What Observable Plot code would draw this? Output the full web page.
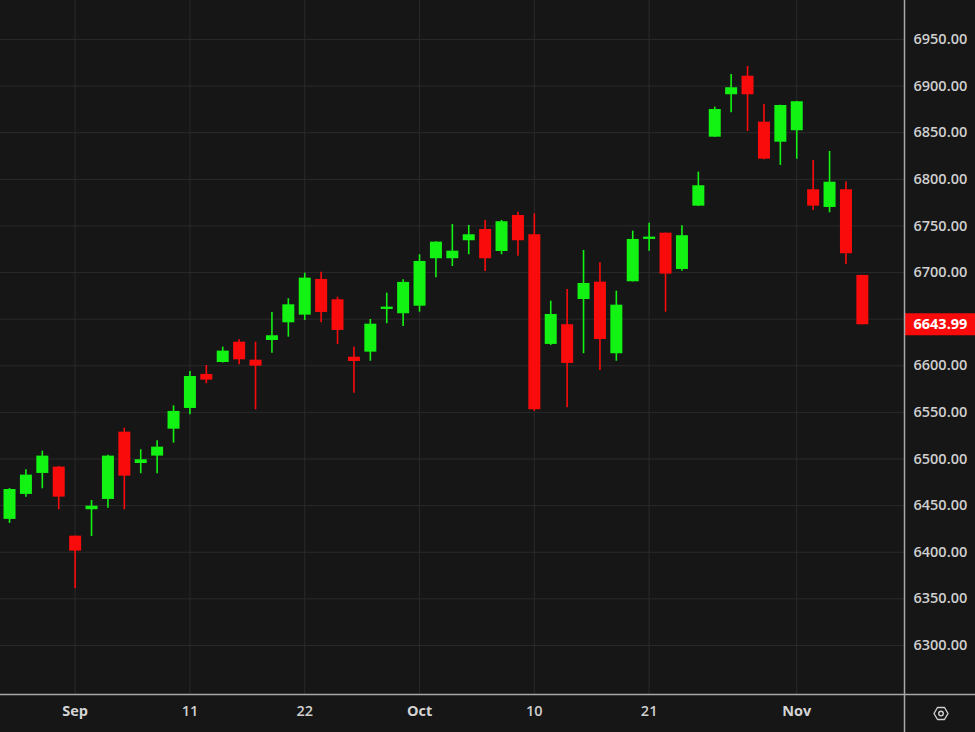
<!DOCTYPE html>
<html><head><meta charset="utf-8">
<script src="https://cdn.jsdelivr.net/npm/d3@7"></script>
<script src="https://cdn.jsdelivr.net/npm/@observablehq/plot@0.6"></script>
<style>
html,body{margin:0;padding:0;background:#161616;}
#chart{width:975px;height:732px;position:relative;overflow:hidden;}
</style></head><body><div id="chart"></div>
<script>
// Daily candles
const dates = ["2025-08-26","2025-08-27","2025-08-28","2025-08-29","2025-09-02","2025-09-03","2025-09-04","2025-09-05","2025-09-08","2025-09-09","2025-09-10","2025-09-11","2025-09-12","2025-09-15","2025-09-16","2025-09-17","2025-09-18","2025-09-19","2025-09-22","2025-09-23","2025-09-24","2025-09-25","2025-09-26","2025-09-29","2025-09-30","2025-10-01","2025-10-02","2025-10-03","2025-10-06","2025-10-07","2025-10-08","2025-10-09","2025-10-10","2025-10-13","2025-10-14","2025-10-15","2025-10-16","2025-10-17","2025-10-20","2025-10-21","2025-10-22","2025-10-23","2025-10-24","2025-10-27","2025-10-28","2025-10-29","2025-10-30","2025-10-31","2025-11-03","2025-11-04","2025-11-05","2025-11-06","2025-11-07"];
const open  = [6435.2,6462.0,6484.5,6491.3,6417.2,6445.6,6456.6,6528.8,6495.2,6503.1,6532.0,6554.2,6590.7,6603.5,6625.3,6606.0,6627.1,6646.1,6654.3,6692.6,6670.8,6609.2,6614.6,6660.4,6655.8,6663.9,6714.8,6714.8,6734.1,6746.2,6722.6,6761.2,6740.5,6622.9,6644.0,6671.1,6689.7,6612.9,6690.1,6735.5,6742.2,6703.3,6771.2,6845.2,6890.7,6910.6,6861.3,6839.8,6852.1,6788.8,6769.8,6788.8,6696.9];
const high  = [6468.4,6488.5,6508.4,6492.0,6417.5,6455.5,6504.0,6533.1,6509.9,6519.6,6557.1,6593.9,6600.3,6620.0,6627.9,6625.3,6657.2,6671.9,6699.3,6700.4,6673.6,6620.0,6649.7,6677.9,6692.3,6719.1,6733.0,6751.6,6750.5,6755.9,6755.9,6764.8,6763.0,6669.3,6681.8,6723.7,6710.5,6680.0,6744.4,6753.0,6742.5,6750.2,6807.7,6877.4,6912.5,6921.0,6880.3,6879.5,6883.5,6820.2,6829.9,6797.0,6696.9];
const low   = [6430.9,6459.1,6468.1,6445.6,6360.8,6416.9,6447.3,6445.6,6484.2,6484.2,6517.0,6547.5,6580.7,6603.0,6601.1,6552.8,6613.5,6630.7,6648.6,6646.1,6622.9,6570.6,6604.9,6645.1,6642.2,6657.5,6694.4,6706.5,6719.1,6701.2,6719.1,6717.6,6551.0,6621.8,6555.0,6612.9,6595.0,6604.9,6690.0,6722.9,6657.5,6701.5,6771.0,6845.0,6871.4,6851.3,6821.0,6814.9,6821.6,6766.6,6764.1,6708.7,6643.99];
const close = [6467.3,6482.7,6503.1,6459.1,6401.2,6449.4,6503.1,6481.6,6499.2,6512.7,6551.0,6588.5,6584.6,6615.7,6606.4,6599.6,6632.2,6665.4,6694.0,6657.2,6637.9,6604.6,6644.6,6662.9,6689.4,6711.9,6732.6,6722.9,6740.5,6714.8,6754.5,6734.1,6552.8,6655.0,6602.5,6688.3,6628.2,6665.0,6735.5,6738.0,6698.3,6739.5,6793.1,6874.9,6898.2,6890.7,6821.6,6879.2,6883.2,6771.2,6796.9,6720.1,6643.99];

// Axis ticks (6650.00 sits behind the last-price box)
const yGrid = [6300,6350,6400,6450,6500,6550,6600,6650,6700,6750,6800,6850,6900,6950];
const yTickLabels = [6300,6350,6400,6450,6500,6550,6600,6700,6750,6800,6850,6900,6950];
const xTickDates  = ["2025-09-02","2025-09-11","2025-09-22","2025-10-01","2025-10-10","2025-10-21","2025-11-03"];
const xTickLabels = ["Sep","11","22","Oct","10","21","Nov"];

const GREEN = "#13f313", RED = "#fa0b0b";
const candles = dates.map((d, i) => ({i, date: d, open: open[i], high: high[i], low: low[i], close: close[i], dir: close[i] >= open[i] ? "up" : "down"}));
const tickIdx = xTickDates.map(d => dates.indexOf(d));
const labelOf = new Map(tickIdx.map((t, k) => [t, xTickLabels[k]]));
const isMonth = l => isNaN(+l);
const monthIdx = tickIdx.filter(t => isMonth(labelOf.get(t)));
const dayIdx = tickIdx.filter(t => !isMonth(labelOf.get(t)));
const last = candles[candles.length - 1];

const chart = Plot.plot({
  width: 975, height: 732,
  marginLeft: 0, marginRight: 71, marginTop: 0, marginBottom: 38,
  style: {background: "#161616", color: "#cfcfcf", fontFamily: "'Open Sans', sans-serif", fontSize: "14.5px", fontWeight: 600},
  x: {domain: [-0.55, 54.57], axis: null},
  y: {domain: [6247.4, 6991.8], axis: null},
  color: {domain: ["up", "down"], range: [GREEN, RED]},
  marks: [
    Plot.gridY(yGrid, {stroke: "#2a2a2a", strokeOpacity: 1}),
    Plot.gridX(tickIdx, {stroke: "#2a2a2a", strokeOpacity: 1}),
    Plot.ruleX(candles, {x: "i", y1: "low", y2: "high", stroke: "dir", strokeWidth: 1.6}),
    Plot.ruleX(candles, {x: "i", y1: "open", y2: "close", stroke: "dir", strokeWidth: 12}),
    Plot.axisY(yTickLabels, {anchor: "right", label: null, tickSize: 0, tickPadding: 9, tickFormat: d => d.toFixed(2), fill: "#cfcfcf"}),
    Plot.axisX(monthIdx, {anchor: "bottom", label: null, tickSize: 0, tickPadding: 11, tickFormat: t => labelOf.get(t), fill: "#d4d4d4", fontWeight: 700}),
    Plot.axisX(dayIdx, {anchor: "bottom", label: null, tickSize: 0, tickPadding: 11, tickFormat: t => labelOf.get(t), fill: "#cfcfcf", fontWeight: 600}),
    Plot.text([last], {y: "close", frameAnchor: "right", dx: 9, textAnchor: "start", text: d => d.close.toFixed(2), fill: "#ffffff", fontWeight: 700})
  ]
});
document.getElementById("chart").append(chart);

// chart chrome: last price box, axis borders, settings icon
const svg = d3.select(chart);
const ys = chart.scale("y");
const xs = chart.scale("x");
const right = xs.range[1], bottom = ys.range[0];
const yl = ys.apply(last.close);
svg.append("rect").attr("x", right).attr("y", yl - 11).attr("width", 975 - right).attr("height", 22).attr("fill", RED);
svg.selectAll("g[aria-label='text']").raise();
svg.append("line").attr("x1", 0).attr("x2", 975).attr("y1", bottom + 0.5).attr("y2", bottom + 0.5).attr("stroke", "#a8a8a8").attr("stroke-width", 1.5);
svg.append("line").attr("x1", right + 0.5).attr("x2", right + 0.5).attr("y1", 0).attr("y2", 732).attr("stroke", "#a8a8a8").attr("stroke-width", 1.5);
const gx = right + 37, gy = bottom + 19.5;
svg.append("path")
  .attr("d", `M${gx-7},${gy} L${gx-3.5},${gy-6} L${gx+3.5},${gy-6} L${gx+7},${gy} L${gx+3.5},${gy+6} L${gx-3.5},${gy+6} Z`)
  .attr("fill", "none").attr("stroke", "#cfcfcf").attr("stroke-width", 1.4).attr("stroke-linejoin", "round");
svg.append("circle").attr("cx", gx).attr("cy", gy).attr("r", 2.3).attr("fill", "none").attr("stroke", "#cfcfcf").attr("stroke-width", 1.4);
</script>
</body></html>
